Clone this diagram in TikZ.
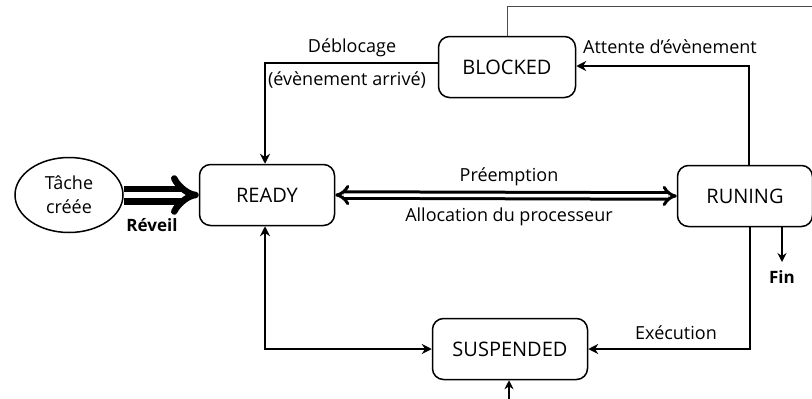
\documentclass[tikz,border=0pt]{standalone}
\usepackage{fontspec}
\setmainfont{Open Sans}
\usetikzlibrary{arrows.meta,shapes.geometric}
\begin{document}
\begin{tikzpicture}[x=1pt,y=-1pt,
  state/.style={draw,line width=1.5pt,rounded corners=11pt,minimum width=135pt,minimum height=61pt,font=\fontsize{20}{24}\selectfont},
  link/.style={line width=2.8pt,-{Stealth[length=10pt,width=10pt]}},
  lbl/.style={font=\fontsize{18}{20}\selectfont,inner sep=0pt},
  boldlbl/.style={font=\fontsize{17}{20}\selectfont\bfseries,inner sep=0pt}]
\useasboundingbox (0,0) rectangle (812,399);
% states
\node[draw,ellipse,line width=1.5pt,minimum width=108pt,minimum height=75pt,align=center,
      font=\fontsize{18}{24}\selectfont,inner sep=1pt] (task) at (69,195) {Tâche\\créée};
\node[state] (ready) at (267,195) {READY};
\node[state,minimum width=137pt] (blocked) at (507,67) {BLOCKED};
\node[state] (run) at (745,196) {RUNING};
\node[state,minimum width=155pt] (susp) at (510,349) {SUSPENDED};
% task creation
\draw[line width=6.5pt,double,double distance=6pt,-{Implies[scale=1.6]}] (task.east) -- (ready.west);
\node[boldlbl] (reveil) at (152,225) {Réveil};
% preemption / allocation
\draw[line width=3pt,double,double distance=3.5pt,{Implies[scale=1.5]}-{Implies[scale=1.5]}] (ready.east) -- (run.west);
\node[lbl] (preempt) at (509,177) {Préemption};
\node[lbl] (alloc) at (509,217) {Allocation du processeur};
% blocked to ready
\draw[link] (blocked.west |- 0,63) -| (ready.north -| 265,0);
\node[lbl] (debl) at (352,48) {Déblocage};
\node[lbl] (evt) at (347,80) {(évènement arrivé)};
% running to blocked
\draw[link] (run.north -| 749,0) |- (blocked.east |- 0,66);
\node[lbl] (attente) at (670,47) {Attente d’évènement};
% thin line leaving the top
\coordinate (topend) at (812,6);
\draw[line width=1pt,black!70] (blocked.north) |- (topend);
% running to suspended
\draw[link] (run.south -| 750,0) |- (susp.east);
\node[lbl] (exec) at (676,333) {Exécution};
% end of task
\coordinate (finend) at (782,262);
\draw[line width=1.8pt,-{Stealth[length=9pt,width=9pt]}] (run.south -| finend) -- (finend);
\node[boldlbl] (fin) at (782,277) {Fin};
% ready <-> suspended
\draw[line width=2.8pt,{Stealth[length=10pt,width=10pt]}-{Stealth[length=10pt,width=10pt]}] (ready.south -| 265,0) |- (susp.west);
% entry into suspended from below
\coordinate (bottom) at (509,399);
\draw[line width=1.8pt,-{Stealth[length=9pt,width=9pt]}] (bottom) -- (susp.south -| bottom);
\end{tikzpicture}
\end{document}
